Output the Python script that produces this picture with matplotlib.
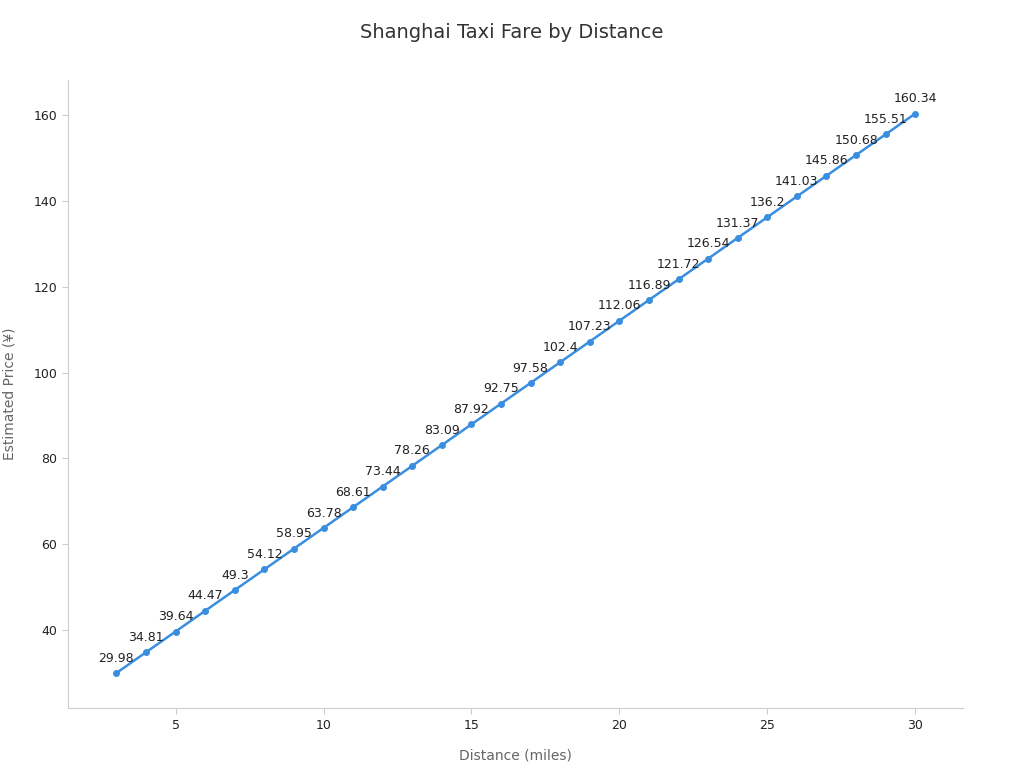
import matplotlib
matplotlib.use("Agg")
import matplotlib.pyplot as plt

distance = list(range(3, 31))
price = [29.98, 34.81, 39.64, 44.47, 49.3, 54.12, 58.95, 63.78, 68.61, 73.44,
         78.26, 83.09, 87.92, 92.75, 97.58, 102.4, 107.23, 112.06, 116.89, 121.72,
         126.54, 131.37, 136.2, 141.03, 145.86, 150.68, 155.51, 160.34]

fig = plt.figure(figsize=(10.24, 7.68), dpi=100)
ax = fig.add_axes([0.066, 0.078, 0.874, 0.818])
color = "#3a8ee0"
ax.plot(distance, price, color=color, lw=1.8, marker="o", ms=4)
for x, y in zip(distance, price):
    ax.annotate(f"{y:g}", (x, y), xytext=(0, 6), textcoords="offset points",
                ha="center", va="bottom", fontsize=9, color="#222222")
ax.set_xlim(1.35, 31.6)
ax.set_ylim(21.8, 168.2)
ax.set_xticks([5, 10, 15, 20, 25, 30])
ax.set_yticks([40, 60, 80, 100, 120, 140, 160])
for s in ["top", "right"]:
    ax.spines[s].set_visible(False)
for s in ["left", "bottom"]:
    ax.spines[s].set_color("#cccccc")
ax.tick_params(colors="#222222", labelsize=9, length=4)
ax.tick_params(axis="both", color="#cccccc")
ax.set_xlabel("Distance (miles)", fontsize=10, color="#666666", labelpad=12)
ax.set_ylabel("Estimated Price (¥)", fontsize=10, color="#666666", labelpad=12)
fig.suptitle("Shanghai Taxi Fare by Distance", fontsize=14, color="#333333", y=0.97)
fig.savefig("out.png", dpi=100)
